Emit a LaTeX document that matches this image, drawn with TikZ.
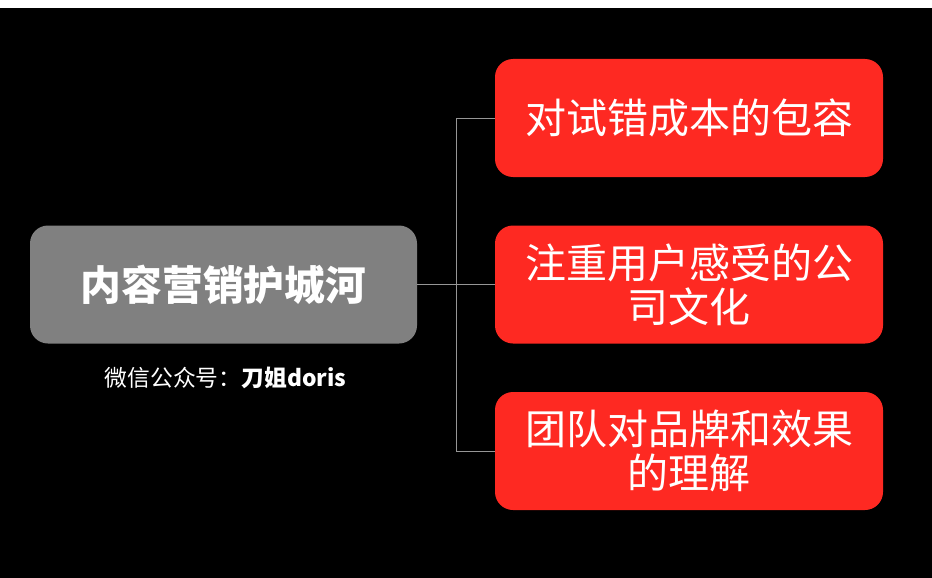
\documentclass[tikz,border=0pt]{standalone}
\usepackage{fontspec}
\setmainfont{Noto Sans CJK SC}
\newfontfamily\cjk{Noto Sans CJK SC}
\definecolor{boxred}{RGB}{254,41,34}
\definecolor{boxgray}{RGB}{128,128,128}
\definecolor{linegray}{RGB}{150,150,150}
\begin{document}
\begin{tikzpicture}[x=1pt,y=-1pt,
  redbox/.style={fill=boxred, rounded corners=18pt, minimum width=388pt, minimum height=118pt, inner sep=0pt, text=white, font=\fontsize{41}{44}\selectfont\cjk, align=center},
  graybox/.style={fill=boxgray, rounded corners=18pt, minimum width=387pt, minimum height=118pt, inner sep=0pt, text=white, font=\fontsize{40.8}{44}\selectfont\cjk\bfseries, align=center},
  conn/.style={draw=linegray, line width=1pt}]
\useasboundingbox (0,0) rectangle (932,578);
\fill[white] (0,0) rectangle (932,578);
\fill[black] (0,8) rectangle (932,578);
\node[graybox] (root) at (223.5,284.5) {内容营销护城河};
\node[redbox] (a) at (689,118) {对试错成本的包容};
\node[redbox] (b) at (689,284.5) {注重用户感受的公\\司文化};
\node[redbox] (c) at (689,451) {团队对品牌和效果\\的理解};
\node[text=white, font=\fontsize{22.8}{24}\selectfont\cjk, inner sep=0pt] (sub) at (225.5,378) {微信公众号：\textbf{刀姐doris}};
\coordinate (j) at (456,284.5);
\draw[conn, line width=1.5pt] (root.east) -- (j);
\draw[conn] (j) |- (a.west);
\draw[conn] (j) -- (b.west);
\draw[conn] (j) |- (c.west);
\end{tikzpicture}
\end{document}
